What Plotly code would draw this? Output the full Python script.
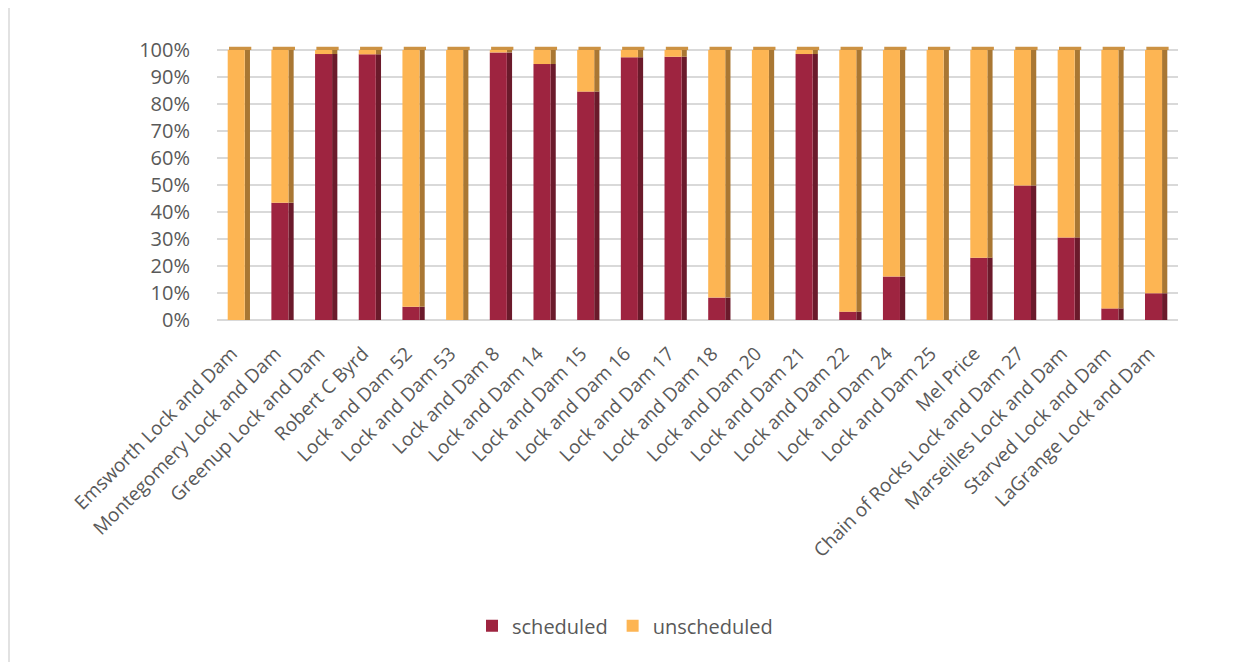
import plotly.graph_objects as go

# Lock names and share of scheduled closures (rest is unscheduled)
locks = [
    "Emsworth Lock and Dam", "Montegomery Lock and Dam", "Greenup Lock and Dam",
    "Robert C Byrd", "Lock and Dam 52", "Lock and Dam 53", "Lock and Dam 8",
    "Lock and Dam 14", "Lock and Dam 15", "Lock and Dam 16", "Lock and Dam 17",
    "Lock and Dam 18", "Lock and Dam 20", "Lock and Dam 21", "Lock and Dam 22",
    "Lock and Dam 24", "Lock and Dam 25", "Mel Price",
    "Chain of Rocks Lock and Dam 27", "Marseilles Lock and Dam",
    "Starved Lock and Dam", "LaGrange Lock and Dam",
]
scheduled = [0.0, 0.434, 0.985, 0.984, 0.049, 0.0, 0.991, 0.948, 0.846, 0.973, 0.975,
             0.083, 0.0, 0.985, 0.031, 0.161, 0.0, 0.231, 0.498, 0.306, 0.043, 0.099]
unscheduled = [1 - s for s in scheduled]

RED, RED_SIDE = "#9E2440", "#6B1A2B"
ORANGE, ORANGE_SIDE, ORANGE_TOP = "#FDB553", "#A97733", "#CC9243"

FRONT_W, FRONT_OFF = 0.39, -0.255
SIDE_W, SIDE_OFF = 0.12, 0.135
CAP = 0.012

fig = go.Figure()
# side faces (drawn first so front faces sit on top)
fig.add_trace(go.Bar(x=locks, y=scheduled, base=[0] * len(locks), width=SIDE_W, offset=SIDE_OFF,
                     marker=dict(color=RED_SIDE, line_width=0), showlegend=False, hoverinfo="skip"))
fig.add_trace(go.Bar(x=locks, y=unscheduled, base=scheduled, width=SIDE_W, offset=SIDE_OFF,
                     marker=dict(color=ORANGE_SIDE, line_width=0), showlegend=False, hoverinfo="skip"))
# top caps
cap_colors = [ORANGE_TOP if u > 0.002 else "#7E1E32" for u in unscheduled]
fig.add_trace(go.Bar(x=locks, y=[CAP] * len(locks), base=[1] * len(locks),
                     width=FRONT_W + SIDE_W, offset=FRONT_OFF + 0.03,
                     marker=dict(color=cap_colors, line_width=0), showlegend=False, hoverinfo="skip"))
# front faces
fig.add_trace(go.Bar(x=locks, y=scheduled, base=[0] * len(locks), width=FRONT_W, offset=FRONT_OFF,
                     name="scheduled", marker=dict(color=RED, line_width=0)))
fig.add_trace(go.Bar(x=locks, y=unscheduled, base=scheduled, width=FRONT_W, offset=FRONT_OFF,
                     name="unscheduled", marker=dict(color=ORANGE, line_width=0)))

# the page body has an 8px margin, so work in shifted pixel coordinates
OFF = 8
W, H = 1254 - OFF, 662 - OFF
L, R, T0, B0 = 217 - OFF, 1178 - OFF, 50 - OFF, 320 - OFF
ymax = 1 + 8 / (B0 - T0)
top_px = B0 - (B0 - T0) * ymax


def px_x(p):
    return (max(p - OFF, 1) - L) / (R - L)


def px_y(p):
    return (B0 - max(p - OFF, 1)) / (B0 - T0)


fig.update_layout(
    width=W, height=H,
    barmode="overlay",
    paper_bgcolor="white", plot_bgcolor="white",
    margin=dict(l=L, r=W - R, t=top_px, b=H - B0, pad=0, autoexpand=False),
    font=dict(family="Open Sans, Segoe UI, sans-serif", color="#595959"),
    xaxis=dict(type="category", tickangle=-45, tickfont=dict(size=19), automargin=False,
               showgrid=False, showline=False, ticks="outside", ticklen=14,
               tickcolor="rgba(0,0,0,0)", ticklabelshift=-7, range=[-0.5, 21.5]),
    yaxis=dict(range=[0, ymax], tickvals=[i / 10 for i in range(11)], tickformat=".0%",
               tickfont=dict(size=20), showgrid=True, gridcolor="#D9D9D9", gridwidth=2,
               zeroline=True, zerolinecolor="#D9D9D9", zerolinewidth=2, automargin=False,
               showline=False, ticks="outside", ticklen=22, tickcolor="rgba(0,0,0,0)"),
    legend=dict(orientation="h", x=px_x(625), xanchor="center",
                y=px_y(617), yanchor="middle",
                font=dict(size=20, color="#595959"), itemwidth=30, traceorder="normal"),
    shapes=[dict(type="rect", xref="paper", yref="paper",
                 x0=px_x(5), x1=px_x(1252), y0=px_y(660), y1=px_y(5),
                 line=dict(color="#D9D9D9", width=1.5), layer="below")],
)

fig.write_html("out.html")
